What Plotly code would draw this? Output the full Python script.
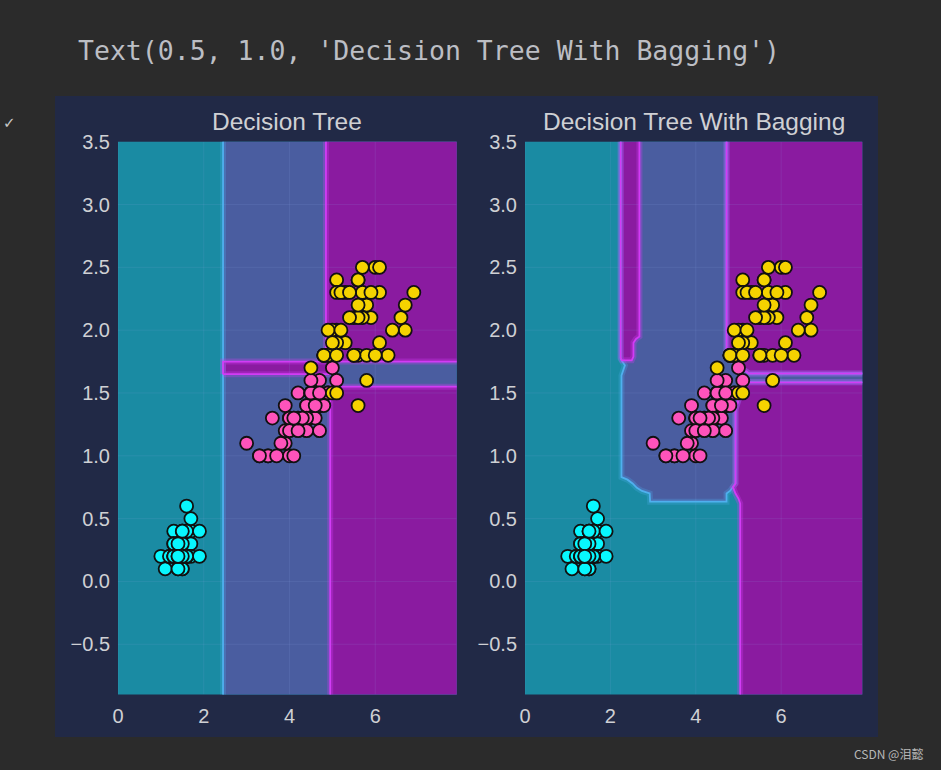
import plotly.graph_objects as go

# ---------------- data (iris petal length / petal width) ----------------
setosa_length = [1.4, 1.4, 1.3, 1.5, 1.4, 1.7, 1.4, 1.5, 1.4, 1.5, 1.5, 1.6, 1.4, 1.1, 1.2, 1.5, 1.3,
                 1.4, 1.7, 1.5, 1.7, 1.5, 1.0, 1.7, 1.9, 1.6, 1.6, 1.5, 1.4, 1.6, 1.6, 1.5, 1.5, 1.4,
                 1.5, 1.2, 1.3, 1.4, 1.3, 1.5, 1.3, 1.3, 1.3, 1.6, 1.9, 1.4, 1.6, 1.4, 1.5, 1.4]
setosa_width = [0.2, 0.2, 0.2, 0.2, 0.2, 0.4, 0.3, 0.2, 0.2, 0.1, 0.2, 0.2, 0.1, 0.1, 0.2, 0.4, 0.4,
                0.3, 0.3, 0.3, 0.2, 0.4, 0.2, 0.5, 0.2, 0.2, 0.4, 0.2, 0.2, 0.2, 0.2, 0.4, 0.1, 0.2,
                0.2, 0.2, 0.2, 0.1, 0.2, 0.2, 0.3, 0.3, 0.2, 0.6, 0.4, 0.3, 0.2, 0.2, 0.2, 0.2]
versicolor_length = [4.7, 4.5, 4.9, 4.0, 4.6, 4.5, 4.7, 3.3, 4.6, 3.9, 3.5, 4.2, 4.0, 4.7, 3.6, 4.4,
                     4.5, 4.1, 4.5, 3.9, 4.8, 4.0, 4.9, 4.7, 4.3, 4.4, 4.8, 5.0, 4.5, 3.5, 3.8, 3.7,
                     3.9, 5.1, 4.5, 4.5, 4.7, 4.4, 4.1, 4.0, 4.4, 4.6, 4.0, 3.3, 4.2, 4.2, 4.2, 4.3,
                     3.0, 4.1]
versicolor_width = [1.4, 1.5, 1.5, 1.3, 1.5, 1.3, 1.6, 1.0, 1.3, 1.4, 1.0, 1.5, 1.0, 1.4, 1.3, 1.4,
                    1.5, 1.0, 1.5, 1.1, 1.8, 1.3, 1.5, 1.2, 1.3, 1.4, 1.4, 1.7, 1.5, 1.0, 1.1, 1.0,
                    1.2, 1.6, 1.5, 1.6, 1.5, 1.3, 1.3, 1.3, 1.2, 1.4, 1.2, 1.0, 1.3, 1.2, 1.3, 1.3,
                    1.1, 1.3]
virginica_length = [6.0, 5.1, 5.9, 5.6, 5.8, 6.6, 4.5, 6.3, 5.8, 6.1, 5.1, 5.3, 5.5, 5.0, 5.1, 5.3,
                    5.5, 6.7, 6.9, 5.0, 5.7, 4.9, 6.7, 4.9, 5.7, 6.0, 4.8, 4.9, 5.6, 5.8, 6.1, 6.4,
                    5.6, 5.1, 5.6, 6.1, 5.6, 5.5, 4.8, 5.4, 5.6, 5.1, 5.1, 5.9, 5.7, 5.2, 5.0, 5.2,
                    5.4, 5.1]
virginica_width = [2.5, 1.9, 2.1, 1.8, 2.2, 2.1, 1.7, 1.8, 1.8, 2.5, 2.0, 1.9, 2.1, 2.0, 2.4, 2.3,
                   1.8, 2.2, 2.3, 1.5, 2.3, 2.0, 2.0, 1.8, 2.1, 1.8, 1.8, 1.8, 2.1, 1.6, 1.9, 2.0,
                   2.2, 1.5, 1.4, 2.3, 2.4, 1.8, 1.8, 2.1, 2.4, 2.3, 1.9, 2.3, 2.5, 2.3, 1.9, 2.0,
                   2.3, 1.8]

# ---------------- decision regions (boundary polygons in data coords) ----------------
full_region = [(-1.5, -1.5), (8.5, -1.5), (8.5, 4.0), (-1.5, 4.0)]
# single decision tree
tree_blue = [[(2.45, -1.5), (8.5, -1.5), (8.5, 4.0), (2.45, 4.0)]]
tree_purple = [
    [(2.45, 1.65), (4.95, 1.65), (4.95, 1.75), (8.5, 1.75), (8.5, 4.0), (4.85, 4.0), (4.85, 1.75), (2.45, 1.75)],
    [(4.95, -1.5), (8.5, -1.5), (8.5, 1.55), (4.95, 1.55)],
]
# bagged trees
bag_blue = [[(2.24, 4.0), (4.72, 4.0), (4.72, 1.80), (4.85, 1.76), (5.05, 1.70), (5.25, 1.655),
             (8.5, 1.655), (8.5, 1.585), (5.19, 1.585), (5.10, 1.55), (5.00, 1.45), (4.93, 1.37),
             (4.93, 0.78), (4.87, 0.75), (4.80, 0.72), (4.72, 0.70), (4.72, 0.635), (2.93, 0.635),
             (2.92, 0.70), (2.74, 0.72), (2.62, 0.745), (2.52, 0.78), (2.40, 0.81), (2.26, 0.83),
             (2.26, 1.64), (2.34, 1.72), (2.24, 1.77)]]
bag_purple = [
    [(2.24, 4.0), (2.68, 4.0), (2.68, 1.95), (2.60, 1.93), (2.54, 1.90), (2.54, 1.79), (2.50, 1.76),
     (2.27, 1.76), (2.24, 1.78)],
    [(4.72, 4.0), (8.5, 4.0), (8.5, 1.655), (5.25, 1.655), (5.05, 1.70), (4.85, 1.76), (4.72, 1.80)],
    [(5.04, -1.5), (8.5, -1.5), (8.5, 1.585), (5.19, 1.585), (5.10, 1.55), (5.00, 1.45), (4.93, 1.37),
     (4.93, 0.78), (4.87, 0.75), (4.93, 0.70), (5.00, 0.66), (5.04, 0.62)],
]

x_ticks = [0, 2, 4, 6]
x_tick_text = ["0", "2", "4", "6"]
y_ticks = [-0.5, 0.0, 0.5, 1.0, 1.5, 2.0, 2.5, 3.0, 3.5]
y_tick_text = ["\u22120.5", "0.0", "0.5", "1.0", "1.5", "2.0", "2.5", "3.0", "3.5"]
x_range = [0.0, 7.9]
y_range = [-0.9, 3.5]
titles = ["Decision Tree", "Decision Tree With Bagging"]
output_text = "Text(0.5, 1.0, 'Decision Tree With Bagging')"

# ---------------- styles ----------------
TEAL = "#1a8ba3"
BLUE = "#4a5da0"
PURPLE = "#8a1ba0"
LINE_BLUE = "#4fb0ee"
LINE_MAG = "#d23cf5"
NAVY = "#212946"
POINT_COLORS = ["#08F7FE", "#FE53BB", "#F5D300"]
TXT = "#cfd0d4"
FONT = "Liberation Sans, Arial, sans-serif"

W, H = 941, 770
left_dom = [118.0 / W, 456.7 / W]
right_dom = [525.0 / W, 862.3 / W]
y_dom = [(H - 694.5) / H, (H - 141.7) / H]

all_x = setosa_length + versicolor_length + virginica_length
all_y = setosa_width + versicolor_width + virginica_width
all_c = ([POINT_COLORS[0]] * len(setosa_length) + [POINT_COLORS[1]] * len(versicolor_length)
         + [POINT_COLORS[2]] * len(virginica_length))

fig = go.Figure()


def poly_xy(poly):
    xs = [p[0] for p in poly] + [poly[0][0]]
    ys = [p[1] for p in poly] + [poly[0][1]]
    return xs, ys


def add_fill(poly, color, xa, ya):
    xs, ys = poly_xy(poly)
    fig.add_trace(go.Scatter(x=xs, y=ys, mode="lines", fill="toself", fillcolor=color,
                             line=dict(width=0, color=color), xaxis=xa, yaxis=ya,
                             hoverinfo="skip", showlegend=False))


def add_panel(blue_polys, purple_polys, xa, ya):
    add_fill(full_region, TEAL, xa, ya)
    for poly in blue_polys:
        add_fill(poly, BLUE, xa, ya)
    for poly in purple_polys:
        add_fill(poly, PURPLE, xa, ya)
    # grid
    gx, gy = [], []
    for t in x_ticks:
        gx += [t, t, None]
        gy += [y_range[0], y_range[1], None]
    for t in y_ticks:
        gx += [x_range[0], x_range[1], None]
        gy += [t, t, None]
    fig.add_trace(go.Scatter(x=gx, y=gy, mode="lines", line=dict(color="rgba(150,170,230,0.13)", width=1),
                             xaxis=xa, yaxis=ya, hoverinfo="skip", showlegend=False))
    # boundary lines with glow
    for polys, col, glow in ((blue_polys, LINE_BLUE, "rgba(79,176,238,0.25)"),
                             (purple_polys, LINE_MAG, "rgba(210,60,245,0.30)")):
        for poly in polys:
            xs, ys = poly_xy(poly)
            fig.add_trace(go.Scatter(x=xs, y=ys, mode="lines", line=dict(color=glow, width=6),
                                     xaxis=xa, yaxis=ya, hoverinfo="skip", showlegend=False))
            fig.add_trace(go.Scatter(x=xs, y=ys, mode="lines", line=dict(color=col, width=1.8),
                                     xaxis=xa, yaxis=ya, hoverinfo="skip", showlegend=False))
    # points
    fig.add_trace(go.Scatter(x=all_x, y=all_y, mode="markers",
                             marker=dict(size=13, color=all_c, line=dict(color="#111111", width=1.8)),
                             xaxis=xa, yaxis=ya, hoverinfo="skip", showlegend=False))


add_panel(tree_blue, tree_purple, "x", "y")
add_panel(bag_blue, bag_purple, "x2", "y2")

axis_common = dict(showgrid=False, zeroline=False, showline=False, ticks="outside", ticklen=3,
                   tickcolor="rgba(0,0,0,0)", tickfont=dict(family=FONT, size=20, color=TXT),
                   fixedrange=True, automargin=False)

fig.update_layout(
    width=W, height=H, autosize=False, showlegend=False,
    margin=dict(l=0, r=0, t=0, b=0, pad=0, autoexpand=False),
    paper_bgcolor="#2b2b2b", plot_bgcolor=TEAL,
    xaxis=dict(domain=left_dom, range=x_range, tickvals=x_ticks, ticktext=x_tick_text, anchor="y", **axis_common),
    yaxis=dict(domain=y_dom, range=y_range, tickvals=y_ticks, ticktext=y_tick_text, anchor="x", **axis_common),
    xaxis2=dict(domain=right_dom, range=x_range, tickvals=x_ticks, ticktext=x_tick_text, anchor="y2", **axis_common),
    yaxis2=dict(domain=y_dom, range=y_range, tickvals=y_ticks, ticktext=y_tick_text, anchor="x2", **axis_common),
    shapes=[dict(type="rect", xref="paper", yref="paper", x0=55 / W, x1=878 / W,
                 y0=(H - 737) / H, y1=(H - 96) / H, fillcolor=NAVY, line=dict(width=0), layer="below")],
    annotations=[
        dict(text=titles[0], xref="paper", yref="paper", x=sum(left_dom) / 2, y=(H - 121) / H,
             xanchor="center", yanchor="middle", showarrow=False,
             font=dict(family=FONT, size=24.5, color=TXT)),
        dict(text=titles[1], xref="paper", yref="paper", x=sum(right_dom) / 2, y=(H - 121) / H,
             xanchor="center", yanchor="middle", showarrow=False,
             font=dict(family=FONT, size=24.5, color=TXT)),
        dict(text=output_text, xref="paper", yref="paper", x=76 / W, y=(H - 50) / H,
             xanchor="left", yanchor="middle", showarrow=False,
             font=dict(family="DejaVu Sans Mono, monospace", size=26.5, color="#bcbec4")),
        dict(text="\u2713", xref="paper", yref="paper", x=0.0, y=(H - 123) / H, xshift=1,
             xanchor="left", yanchor="middle", showarrow=False,
             font=dict(family="DejaVu Sans", size=15, color="#c8c8c8")),
        dict(text="CSDN @泪懿", xref="paper", yref="paper", x=925 / W, y=(H - 753.5) / H,
             xanchor="right", yanchor="middle", showarrow=False,
             font=dict(family="Noto Sans CJK SC", size=12, color="#b8b8b8")),
    ],
)

fig.write_html("out.html", config={"displayModeBar": False},
               post_script="document.body.style.margin='0';document.body.style.background='#2b2b2b';")
